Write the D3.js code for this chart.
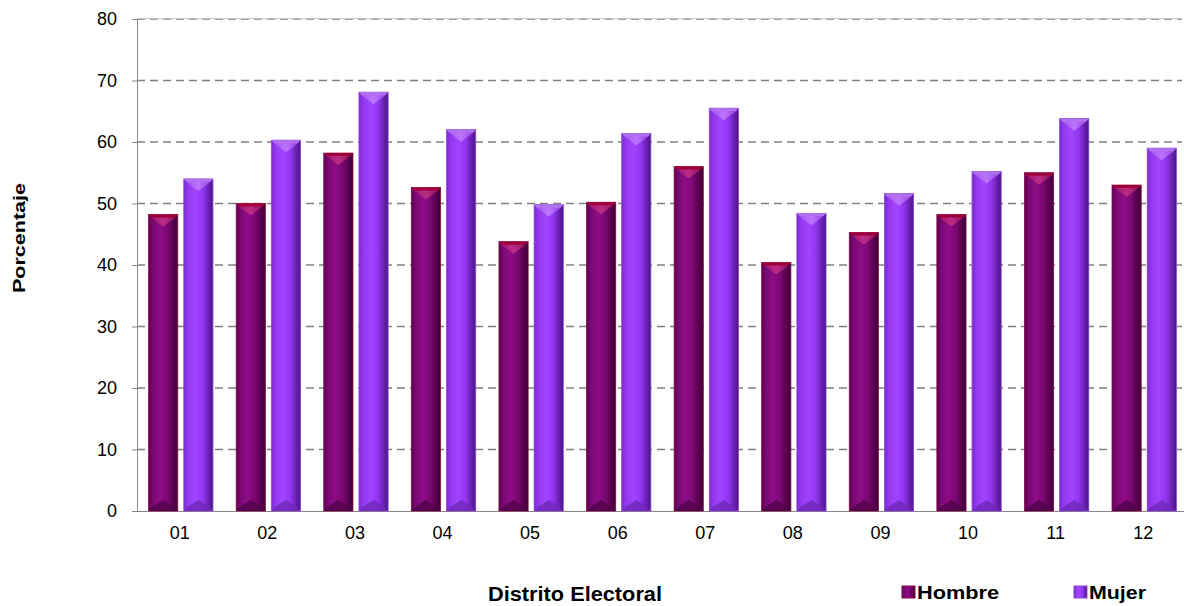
<!DOCTYPE html>
<html><head><meta charset="utf-8">
<script src="https://cdn.jsdelivr.net/npm/d3@7"></script>
<style>body{margin:0;background:#fff}svg{display:block}</style>
</head><body><svg id="c" width="1184" height="606"></svg>
<script>
const categories = ["01","02","03","04","05","06","07","08","09","10","11","12"];
const hombre = [48.2,50.0,58.2,52.6,43.8,50.2,56.0,40.4,45.3,48.2,55.0,53.0];
const mujer  = [54.0,60.3,68.1,62.0,49.8,61.4,65.5,48.4,51.6,55.2,63.8,59.0];
const yTicks = [0,10,20,30,40,50,60,70,80];
const seriesNames = ["Hombre","Mujer"];

const FONT = "Liberation Sans, Arial, sans-serif";
const svg = d3.select("#c");
const L = 137, R = 1188, T = 19, B = 511;
const x = d3.scaleBand().domain(categories).range([L, R]).paddingInner(0).paddingOuter(0);
const xi = d3.scaleBand().domain(seriesNames).range([0, x.bandwidth()]).paddingInner(0.17).paddingOuter(0.33);
const y = d3.scaleLinear().domain([0, 80]).range([B, T]);

const defs = svg.append("defs");
function grad(id, stops){
  const g = defs.append("linearGradient").attr("id", id).attr("x1","0").attr("x2","1").attr("y1","0").attr("y2","0");
  stops.forEach(s => g.append("stop").attr("offset", s[0]).attr("stop-color", s[1]));
}
grad("gH", [[0,"#5c0055"],[0.15,"#7a0a72"],[0.4,"#8f0c88"],[0.65,"#7a0872"],[0.85,"#56004e"],[1,"#3e0038"]]);
grad("gM", [[0,"#7a2cd0"],[0.15,"#9538f0"],[0.4,"#a244ff"],[0.65,"#9236f0"],[0.85,"#6a20b4"],[1,"#4c1686"]]);
grad("gHtop", [[0,"#a0105a"],[0.5,"#c0308a"],[1,"#90104a"]]);
grad("gMtop", [[0,"#a050f0"],[0.5,"#c07aff"],[1,"#9040e0"]]);

// gridlines
svg.append("g").selectAll("line").data(yTicks.filter(d => d > 0)).join("line")
  .attr("x1", L).attr("x2", 1182).attr("y1", d => y(d)).attr("y2", d => y(d))
  .attr("stroke", "#808080").attr("stroke-width", 1.5).attr("stroke-dasharray", "8,5");
svg.append("line").attr("x1", L).attr("x2", 1182).attr("y1", T-0.5).attr("y2", T-0.5)
  .attr("stroke", "#c8c8c8").attr("stroke-width", 1);

// y axis
const yAxis = d3.axisLeft(y).tickValues(yTicks).tickSize(5).tickPadding(15);
const ya = svg.append("g").attr("transform", `translate(${L},0)`).call(yAxis);
ya.select(".domain").attr("stroke", "#888");
ya.selectAll(".tick line").attr("stroke", "#888");
ya.selectAll("text").attr("font-family", FONT).attr("font-size", 18).attr("fill", "#000");

// x axis
const xAxis = d3.axisBottom(x).tickSize(0).tickPadding(15);
const xa = svg.append("g").attr("transform", `translate(-1,${B})`).call(xAxis);
xa.select(".domain").attr("stroke", "#888");
xa.selectAll("text").attr("font-family", FONT).attr("font-size", 18).attr("fill", "#000");

// bars
const data = [];
categories.forEach((c, i) => {
  data.push({c, s: "Hombre", v: hombre[i]});
  data.push({c, s: "Mujer", v: mujer[i]});
});
const bars = svg.append("g").selectAll("g").data(data).join("g")
  .attr("transform", d => `translate(${x(d.c) + xi(d.s)},0)`);
const w = xi.bandwidth();
bars.append("rect").attr("x", 0).attr("y", d => y(d.v)).attr("width", w).attr("height", d => B - y(d.v))
  .attr("fill", d => d.s === "Hombre" ? "url(#gH)" : "url(#gM)")
  .attr("stroke", d => d.s === "Hombre" ? "#8a0a40" : "#8a4ad0").attr("stroke-width", 0.8);
// top cap band
bars.append("path").attr("d", d => {
  const t = y(d.v);
  return `M0,${t}L${w},${t}L${w-4},${t+4}L${w/2},${t+12}L4,${t+4}Z`;
}).attr("fill", d => d.s === "Hombre" ? "url(#gHtop)" : "url(#gMtop)").attr("opacity", 0.9);
bars.append("path").attr("d", d => {
  const t = y(d.v);
  return `M0,${t}L${w},${t}L${w-3},${t+3}L3,${t+3}Z`;
}).attr("fill", d => d.s === "Hombre" ? "#a0003a" : "#b070f0");
// bottom bevel
bars.append("path").attr("d", () => {
  return `M0,${B}L${w},${B}L${w-5},${B-5}L${w/2},${B-11}L5,${B-5}Z`;
}).attr("fill", d => d.s === "Hombre" ? "#500048" : "#7028b8").attr("opacity", 0.8);

// axis titles
svg.append("text").attr("transform", "translate(25,238) rotate(-90)").attr("text-anchor", "middle")
  .attr("font-family", FONT).attr("font-weight", "bold").attr("font-size", 17)
  .attr("textLength", 110).attr("lengthAdjust", "spacingAndGlyphs")
  .text("Porcentaje");
svg.append("text").attr("x", 575).attr("y", 601).attr("text-anchor", "middle")
  .attr("font-family", FONT).attr("font-weight", "bold").attr("font-size", 20.5)
  .attr("textLength", 174).attr("lengthAdjust", "spacingAndGlyphs")
  .text("Distrito Electoral");

// legend
const legX = [902, 1074];
const legLen = [82, 57];
const lg = svg.append("g").selectAll("g").data(seriesNames).join("g")
  .attr("transform", (d, i) => `translate(${legX[i]},586)`);
lg.append("rect").attr("width", 13).attr("height", 12)
  .attr("fill", d => d === "Hombre" ? "url(#gH)" : "url(#gM)")
  .attr("stroke", d => d === "Hombre" ? "#8a0a40" : "#8a4ad0");
lg.append("text").attr("x", 15).attr("y", 12.5)
  .attr("font-family", FONT).attr("font-weight", "bold").attr("font-size", 19)
  .attr("textLength", (d, i) => legLen[i]).attr("lengthAdjust", "spacingAndGlyphs")
  .text(d => d);
</script></body></html>
